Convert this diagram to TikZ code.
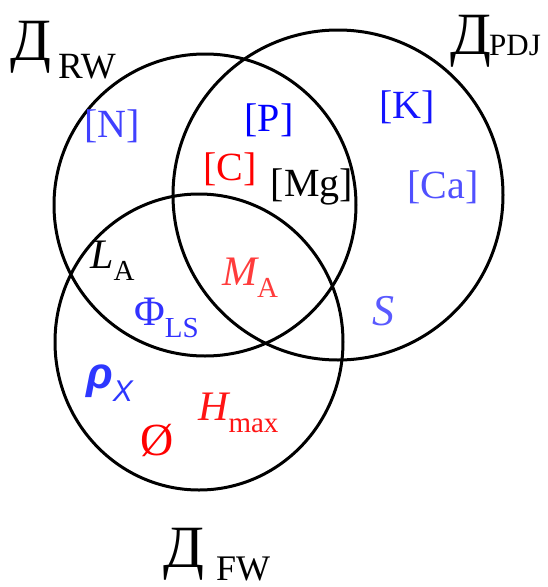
\documentclass[tikz,border=0pt]{standalone}
\usepackage{fontspec}
\setmainfont{Liberation Serif}
\newfontfamily\rhofont{Liberation Sans}
\usepackage{tikz}
\definecolor{ringblack}{RGB}{0,0,0}
\definecolor{nblue}{RGB}{64,64,255}
\definecolor{pblue}{RGB}{0,0,255}
\definecolor{kblue}{RGB}{20,20,255}
\definecolor{cablue}{RGB}{80,80,255}
\definecolor{phiblue}{RGB}{50,50,255}
\definecolor{sblue}{RGB}{90,90,255}
\definecolor{rhoblue}{RGB}{45,55,255}
\definecolor{cred}{RGB}{255,0,0}
\definecolor{mred}{RGB}{255,60,60}
\definecolor{hred}{RGB}{255,20,20}
\newcommand{\lowsub}[1]{\raisebox{-12pt}{\fontsize{29}{29}\selectfont #1}}
\tikzset{
  ring/.style={draw=ringblack, line width=3pt},
  elem/.style={font=\fontsize{40}{44}\selectfont, inner sep=0pt, anchor=base},
  var/.style={font=\fontsize{42}{46}\selectfont, inner sep=0pt, anchor=base west},
  setname/.style={font=\fontsize{60}{64}\selectfont, inner sep=0pt, anchor=base west},
  setsub/.style={inner sep=0pt, anchor=base west},
}

\begin{document}
\begin{tikzpicture}[x=1pt,y=-1pt]
  \useasboundingbox (0,0) rectangle (548,587);
  % the three sets
  \draw[ring] (205,205) circle[radius=151pt];
  \draw[ring] (338,195) circle[radius=165pt];
  \draw[ring] (199,342) ellipse[x radius=144pt, y radius=148pt];
  % set names
  \node[setname] (drw) at (10,60) {Д};
  \node[setsub,font=\fontsize{37}{37}\selectfont] (drwsub) at (58,78) {RW};
  \node[setname] (dpdj) at (450,54) {Д};
  \node[setsub,font=\fontsize{31}{31}\selectfont] (dpdjsub) at (489,55) {PDJ};
  \node[setname] (dfw) at (163,567) {Д};
  \node[setsub,font=\fontsize{36}{36}\selectfont] (dfwsub) at (216,580) {FW};
  % nutrients
  \node[elem,text=nblue] (n) at (112,137) {[N]};
  \node[elem,text=pblue] (p) at (269,131) {[P]};
  \node[elem,text=kblue] (k) at (407,118) {[K]};
  \node[elem,text=cred] (c) at (230,180) {[C]};
  \node[elem,text=ringblack] (mg) at (312,196) {[Mg]};
  \node[elem,text=cablue] (ca) at (443,198) {[Ca]};
  % indices
  \node[var,text=ringblack] (la) at (90,268) {\itshape L\upshape\lowsub{A}};
  \node[var,text=mred] (ma) at (222,285) {\itshape M\upshape\lowsub{A}};
  \node[var,text=phiblue] (phils) at (134,325) {Φ\lowsub{LS}};
  \node[var,text=sblue,font=\fontsize{44}{48}\selectfont\itshape] (s) at (372,325) {S};
  \node[var,text=rhoblue,font=\fontsize{44}{48}\selectfont\rhofont\bfseries\itshape] (rhox) at (86,388) {ρ\raisebox{-13pt}{\fontsize{30}{30}\selectfont\mdseries X}};
  \node[elem,text=cred,font=\fontsize{46}{50}\selectfont] (oslash) at (157,455) {Ø};
  \node[var,text=hred] (hmax) at (198,420) {\itshape H\upshape\lowsub{max}};
\end{tikzpicture}
\end{document}
